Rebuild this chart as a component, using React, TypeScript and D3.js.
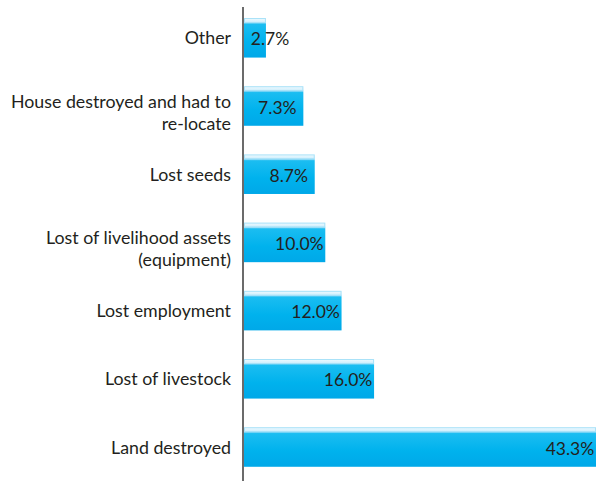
import React from "react";
import * as d3 from "d3";

const categories: string[][] = [
  ["Other"],
  ["House destroyed and had to", "re-locate"],
  ["Lost seeds"],
  ["Lost of livelihood assets", "(equipment)"],
  ["Lost employment"],
  ["Lost of livestock"],
  ["Land destroyed"],
];
const values: number[] = [2.7, 7.3, 8.7, 10.0, 12.0, 16.0, 43.3];
const valueLabels: string[] = ["2.7%", "7.3%", "8.7%", "10.0%", "12.0%", "16.0%", "43.3%"];

const W = 596;
const H = 481;
const FONT = "Lato, 'Open Sans', sans-serif";

export default function App() {
  const x0 = 244;
  const x = d3.scaleLinear().domain([0, 43.3]).range([x0, 596]);
  const y = d3
    .scaleBand<number>()
    .domain(values.map((_, i) => i))
    .range([3.7, 481.1])
    .paddingInner(0.42)
    .paddingOuter(0.21);

  return (
    <svg
      width={W}
      height={H}
      style={{ position: "absolute", left: 0, top: 0, fontFamily: FONT }}
    >
      <defs>
        <linearGradient id="barGrad" x1="0" y1="0" x2="0" y2="1">
          <stop offset="0%" stopColor="#f4fbff" />
          <stop offset="9%" stopColor="#d2f0fd" />
          <stop offset="12%" stopColor="#8ad8f7" />
          <stop offset="16%" stopColor="#1bbdf1" />
          <stop offset="60%" stopColor="#00b2ed" />
          <stop offset="100%" stopColor="#00a8e8" />
        </linearGradient>
      </defs>
      {values.map((v, i) => {
        const by = y(i)!;
        const bh = y.bandwidth();
        const xe = x(v);
        const cx = Math.max(xe - 26, x0 + 26);
        const cyMid = by + bh / 2;
        return (
          <g key={i}>
            <rect x={x0} y={by} width={xe - x0} height={bh} fill="url(#barGrad)" />
            <rect
              x={x0 + 0.5}
              y={by + 0.5}
              width={Math.max(0, xe - x0 - 1)}
              height={4}
              fill="none"
              stroke="#a9e2f8"
              strokeWidth={1}
            />
            <text
              x={cx}
              y={cyMid + 7.5}
              textAnchor="middle"
              fontSize={17.5}
              fill="#231f20"
            >
              {valueLabels[i]}
            </text>
            {categories[i].map((line, j) => {
              const n = categories[i].length;
              const ty = n === 1 ? cyMid + 6.5 : cyMid + 1.5 + j * 22;
              return (
                <text
                  key={j}
                  x={231}
                  y={ty}
                  textAnchor="end"
                  fontSize={17.8}
                  fill="#231f20"
                >
                  {line}
                </text>
              );
            })}
          </g>
        );
      })}
      <line x1={243} x2={243} y1={7} y2={481} stroke="#3a3a3a" strokeWidth={1.5} />
    </svg>
  );
}
